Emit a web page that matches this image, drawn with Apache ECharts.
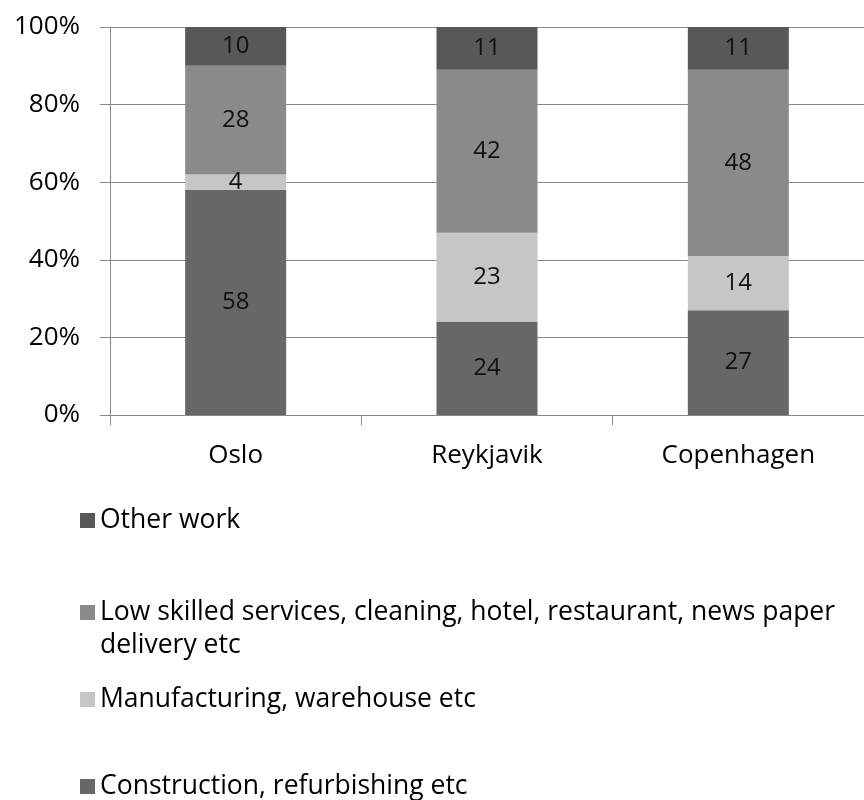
<!DOCTYPE html>
<html><head><meta charset="utf-8">
<script src="https://cdn.jsdelivr.net/npm/echarts@6/dist/echarts.min.js"></script>
<style>html,body{margin:0;padding:0;background:#fff}#c{width:864px;height:800px}</style>
</head><body><div id="c"></div>
<script>
const categories = ['Oslo', 'Reykjavik', 'Copenhagen'];
const seriesNames = ['Construction, refurbishing etc', 'Manufacturing, warehouse etc', 'Low skilled services, cleaning, hotel, restaurant, news paper delivery etc', 'Other work'];
const construction = [58, 24, 27];
const manufacturing = [4, 23, 14];
const lowSkilled = [28, 42, 48];
const otherWork = [10, 11, 11];
const yTicks = [0, 20, 40, 60, 80, 100];

const colors = ['#676767', '#c6c6c6', '#8a8a8a', '#585858'];
const values = [construction, manufacturing, lowSkilled, otherWork];
const FONT = 'Open Sans';

const chart = echarts.init(document.getElementById('c'));
const legendTops = {3: 499, 2: 591, 1: 678, 0: 765};
const legends = [3, 2, 1, 0].map(i => ({
  data: [seriesNames[i]],
  left: 75, top: legendTops[i],
  orient: 'vertical',
  icon: 'rect', itemWidth: 15, itemHeight: 15, itemGap: 10,
  selectedMode: false,
  formatter: n => n.startsWith('Low skilled') ? 'Low skilled services, cleaning, hotel, restaurant, news paper' : n,
  textStyle: {fontFamily: FONT, fontSize: 26.5, color: '#000', lineHeight: 33}
}));

chart.setOption({
  animation: false,
  textStyle: {fontFamily: FONT},
  grid: {left: 110, top: 27, width: 765, height: 388, containLabel: false},
  legend: legends,
  graphic: [{type: 'text', left: 100, top: 629, style: {text: 'delivery etc', fontFamily: FONT, fontSize: 26.5, lineHeight: 33, fill: '#000'}}],
  xAxis: {
    type: 'category', data: categories,
    axisLine: {lineStyle: {color: '#888', width: 1}},
    axisTick: {show: true, length: 10, lineStyle: {color: '#888'}},
    axisLabel: {fontFamily: FONT, fontSize: 26, color: '#000', margin: 28}
  },
  yAxis: {
    type: 'value', min: 0, max: 100, interval: 20,
    axisLine: {show: true, lineStyle: {color: '#888'}},
    axisTick: {show: true, length: 10, lineStyle: {color: '#888'}},
    splitLine: {lineStyle: {color: '#888', width: 1}},
    axisLabel: {fontFamily: FONT, fontSize: 26, color: '#000', margin: 30, formatter: v => yTicks.includes(v) ? v + '%' : ''}
  },
  series: values.map((v, i) => ({
    name: seriesNames[i], type: 'bar', stack: 'all', data: v,
    barWidth: 101,
    itemStyle: {color: colors[i]},
    label: {show: true, position: 'inside', color: '#111', fontFamily: FONT, fontSize: 24}
  }))
});
</script></body></html>
